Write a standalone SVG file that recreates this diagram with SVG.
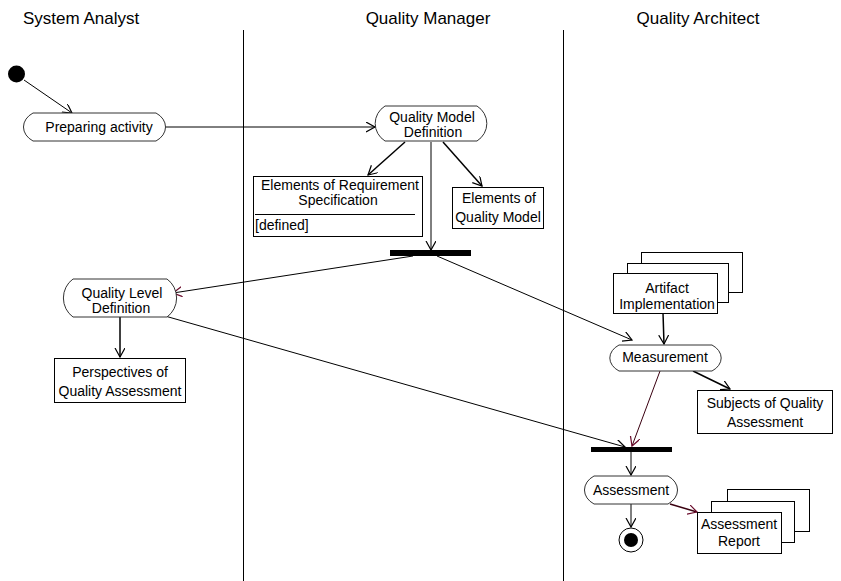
<svg xmlns="http://www.w3.org/2000/svg" width="841" height="581" viewBox="0 0 841 581">
<defs>
<marker id="arr" markerUnits="userSpaceOnUse" markerWidth="12" markerHeight="12" refX="9" refY="5" orient="auto">
<path d="M0,0 L9,5 L0,10" fill="none" stroke="#000" stroke-width="1.2"/>
</marker>
<marker id="arrR" markerUnits="userSpaceOnUse" markerWidth="12" markerHeight="12" refX="9" refY="5" orient="auto">
<path d="M0,0 L9,5 L0,10" fill="none" stroke="#6a0a2a" stroke-width="1.2"/>
</marker>
</defs>
<style>
text{font-family:"Liberation Sans",Arial,sans-serif;fill:#000}
.h{font-size:17px}
.t{font-size:14px;text-anchor:middle}
.tl{font-size:14px}
.act{fill:#fff;stroke:#333;stroke-width:1}
.box{fill:#fff;stroke:#000;stroke-width:1}
.bar{fill:#000}
.c{fill:none;stroke:#000;stroke-width:1;marker-end:url(#arr)}
.o{fill:none;stroke:#000;stroke-width:1.5;marker-end:url(#arr)}
.m{fill:none;stroke:#3a0010;stroke-width:1;marker-end:url(#arrR)}
.lane{stroke:#000;stroke-width:1}
</style>
<rect width="841" height="581" fill="#fff"/>
<g id="lanes">
<text class="h" x="23" y="24">System Analyst</text>
<text class="h" x="428" y="24" text-anchor="middle">Quality Manager</text>
<text class="h" x="698" y="24" text-anchor="middle">Quality Architect</text>
<line class="lane" x1="243.5" y1="30" x2="243.5" y2="581"/>
<line class="lane" x1="563.5" y1="30" x2="563.5" y2="581"/>
</g>
<g id="connectors">
<line class="c" x1="24" y1="80" x2="72" y2="113"/>
<line class="c" x1="166" y1="127" x2="375" y2="127"/>
<line class="o" x1="405" y1="142" x2="368" y2="175"/>
<line class="o" x1="443" y1="142" x2="482" y2="186"/>
<line class="c" x1="431" y1="142" x2="431" y2="250" stroke="#555"/>
<line class="m" x1="413" y1="256" x2="173" y2="293" style="stroke:#000"/>
<line class="c" x1="437" y1="256" x2="632" y2="340"/>
<line class="o" x1="120" y1="317" x2="120" y2="357"/>
<line class="c" x1="165" y1="316" x2="625" y2="447"/>
<line class="o" x1="663" y1="313" x2="664" y2="344"/>
<line class="o" x1="693" y1="371" x2="730" y2="389"/>
<line class="m" x1="660" y1="371" x2="632" y2="446"/>
<line class="c" x1="631" y1="452" x2="631" y2="475"/>
<line class="c" x1="631" y1="504" x2="631" y2="527"/>
<line class="m" x1="670" y1="504" x2="697" y2="512" style="stroke-width:1.5"/>
</g>
<g id="initial"><circle cx="16.5" cy="74" r="8.5" fill="#000"/></g>
<g id="preparing">
<path class="act" d="M33,113 H156 A22,17 0 0 1 156,141 H33 A22,17 0 0 1 33,113 Z"/>
<text class="t" x="99" y="132">Preparing activity</text>
</g>
<g id="qmd">
<path class="act" d="M385,106 H477 A22,21 0 0 1 477,141 H385 A22,21 0 0 1 385,106 Z"/>
<text class="t" x="432" y="122">Quality Model</text>
<text class="t" x="433" y="137">Definition</text>
</g>
<g id="ers">
<rect class="box" x="253.5" y="176.5" width="169" height="60"/>
<text class="t" x="340" y="190">Elements of Requirement</text>
<text class="t" x="338" y="205">Specification</text>
<line x1="255" y1="214.5" x2="415" y2="214.5" stroke="#000"/>
<text class="tl" x="255" y="230">[defined]</text>
</g>
<g id="eqm">
<rect class="box" x="452.5" y="187.5" width="91" height="41"/>
<text class="t" x="499" y="203">Elements of</text>
<text class="t" x="498" y="222">Quality Model</text>
</g>
<g id="fork1"><rect class="bar" x="390" y="250" width="81" height="6"/></g>
<g id="qld">
<path class="act" d="M73,279 H167 A22,23 0 0 1 167,317 H73 A22,23 0 0 1 73,279 Z"/>
<text class="t" x="122" y="298">Quality Level</text>
<text class="t" x="121" y="313">Definition</text>
</g>
<g id="perspectives">
<rect class="box" x="54.5" y="358.5" width="131" height="44"/>
<text class="t" x="120" y="377">Perspectives of</text>
<text class="t" x="120" y="396">Quality Assessment</text>
</g>
<g id="artifact">
<rect class="box" x="641.5" y="252.5" width="101" height="40"/>
<rect class="box" x="627.5" y="263.5" width="101" height="39"/>
<rect class="box" x="613.5" y="273.5" width="104" height="40"/>
<text class="t" x="667" y="293">Artifact</text>
<text class="t" x="667" y="309">Implementation</text>
</g>
<g id="measurement">
<path class="act" d="M619,345 H712 A22,16 0 0 1 712,371 H619 A22,16 0 0 1 619,345 Z"/>
<text class="t" x="665" y="362">Measurement</text>
</g>
<g id="subjects">
<rect class="box" x="697.5" y="390.5" width="135" height="43"/>
<text class="t" x="765" y="408">Subjects of Quality</text>
<text class="t" x="765" y="427">Assessment</text>
</g>
<g id="join2"><rect class="bar" x="591" y="447" width="81" height="5"/></g>
<g id="assessment">
<path class="act" d="M594,476 H668 A22,17 0 0 1 668,504 H594 A22,17 0 0 1 594,476 Z"/>
<text class="t" x="631" y="495">Assessment</text>
</g>
<g id="final">
<circle cx="631" cy="540" r="12" fill="#fff" stroke="#000"/>
<circle cx="631" cy="540" r="7" fill="#000"/>
</g>
<g id="report">
<rect class="box" x="727.5" y="489.5" width="82" height="42"/>
<rect class="box" x="711.5" y="501.5" width="83" height="41"/>
<rect class="box" x="697.5" y="512.5" width="84" height="41"/>
<text class="t" x="739" y="529">Assessment</text>
<text class="t" x="739" y="546">Report</text>
</g>
</svg>
